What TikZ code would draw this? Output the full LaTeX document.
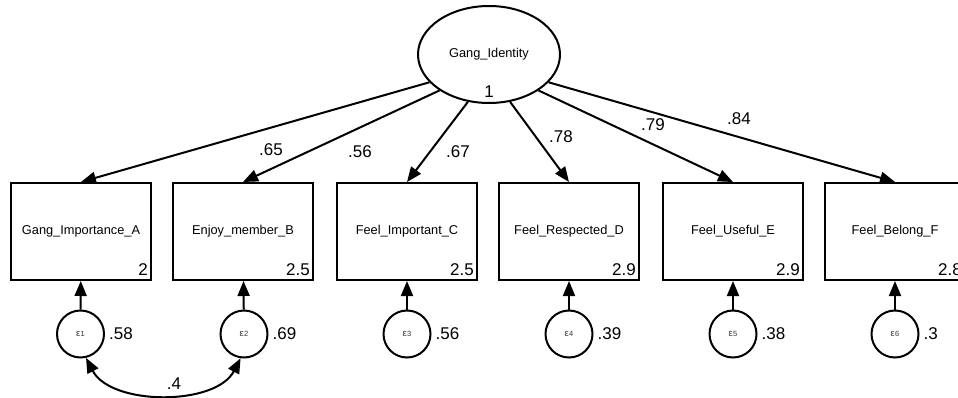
\documentclass[tikz,border=0pt]{standalone}
\usepackage{fontspec}
\setmainfont{Liberation Sans}
\usetikzlibrary{arrows.meta, shapes.geometric, positioning}
\tikzset{
  latent/.style={draw, ellipse, line width=2pt, minimum width=142pt, minimum height=97pt, inner sep=0pt, font=\fontsize{12.8}{14}\selectfont},
  obsbox/.style={draw, line width=2pt, minimum width=140pt, minimum height=97pt, inner sep=0pt, font=\fontsize{12.8}{14}\selectfont},
  errcirc/.style={draw, circle, line width=2pt, minimum size=47pt, inner sep=0pt, font=\fontsize{9.5}{10}\selectfont, text=black!80},
  numlbl/.style={font=\fontsize{17}{18}\selectfont, inner sep=0pt},
  sempath/.style={line width=2pt, -{Triangle[length=15pt,width=12pt]}},
  covpath/.style={line width=2pt, {Triangle[length=15pt,width=12pt]}-{Triangle[length=15pt,width=12pt]}}
}
\newcommand{\epsl}[1]{ε\kern0.3pt{\fontsize{7.5}{7.5}\selectfont #1}}
\begin{document}
\begin{tikzpicture}[x=1pt,y=-1pt]
\useasboundingbox (0,0) rectangle (958,398);
% latent variable
\node[latent] (lat) at (489,54.5) {Gang\_Identity};
\node[numlbl] (latvar) at (489,91.5) {1};
% observed variables
\node[obsbox] (b1) at (81,231.5) {Gang\_Importance\_A};
\node[obsbox] (b2) at (243,231.5) {Enjoy\_member\_B};
\node[obsbox] (b3) at (407,231.5) {Feel\_Important\_C};
\node[obsbox] (b4) at (569,231.5) {Feel\_Respected\_D};
\node[obsbox] (b5) at (733,231.5) {Feel\_Useful\_E};
\node[obsbox] (b6) at (895,231.5) {Feel\_Belong\_F};
% intercepts
\node[numlbl, anchor=base east, xshift=-4pt, yshift=6pt] (i1) at (b1.south east) {2};
\node[numlbl, anchor=base east, xshift=-4pt, yshift=6pt] (i2) at (b2.south east) {2.5};
\node[numlbl, anchor=base east, xshift=-4pt, yshift=6pt] (i3) at (b3.south east) {2.5};
\node[numlbl, anchor=base east, xshift=-4pt, yshift=6pt] (i4) at (b4.south east) {2.9};
\node[numlbl, anchor=base east, xshift=-4pt, yshift=6pt] (i5) at (b5.south east) {2.9};
\node[numlbl, anchor=base east, xshift=-4pt, yshift=6pt] (i6) at (b6.south east) {2.8};
% error terms
\node[errcirc] (e1) at (80.5,334) {\epsl{1}};
\node[errcirc] (e2) at (244,334) {\epsl{2}};
\node[errcirc] (e3) at (407,334) {\epsl{3}};
\node[errcirc] (e4) at (569,334) {\epsl{4}};
\node[errcirc] (e5) at (733,334) {\epsl{5}};
\node[errcirc] (e6) at (895,334) {\epsl{6}};
\node[numlbl, anchor=west, xshift=4pt] (v1) at (e1.east) {.58};
\node[numlbl, anchor=west, xshift=4pt] (v2) at (e2.east) {.69};
\node[numlbl, anchor=west, xshift=4pt] (v3) at (e3.east) {.56};
\node[numlbl, anchor=west, xshift=4pt] (v4) at (e4.east) {.39};
\node[numlbl, anchor=west, xshift=4pt] (v5) at (e5.east) {.38};
\node[numlbl, anchor=west, xshift=4pt] (v6) at (e6.east) {.3};
% loadings
\draw[sempath] (lat.205) -- (b1.north);
\draw[sempath] (lat.216) -- (b2.north);
\draw[sempath] (lat.246) -- (b3.north);
\draw[sempath] (lat.294) -- (b4.north);
\draw[sempath] (lat.324) -- (b5.north);
\draw[sempath] (lat.335) -- (b6.north);
\node[numlbl] (l1) at (271,150) {.65};
\node[numlbl] (l2) at (360,152) {.56};
\node[numlbl] (l3) at (458,152) {.67};
\node[numlbl] (l4) at (561,137) {.78};
\node[numlbl] (l5) at (653,125) {.79};
\node[numlbl] (l6) at (739,119) {.84};
% errors to indicators
\draw[sempath] (e1) -- (b1);
\draw[sempath] (e2) -- (b2);
\draw[sempath] (e3) -- (b3);
\draw[sempath] (e4) -- (b4);
\draw[sempath] (e5) -- (b5);
\draw[sempath] (e6) -- (b6);
% covariance
\draw[covpath] (e1.283) .. controls +(25,48) and +(-25,48) .. (e2.262);
\node[numlbl] (c12) at (174,384) {.4};
\end{tikzpicture}
\end{document}
